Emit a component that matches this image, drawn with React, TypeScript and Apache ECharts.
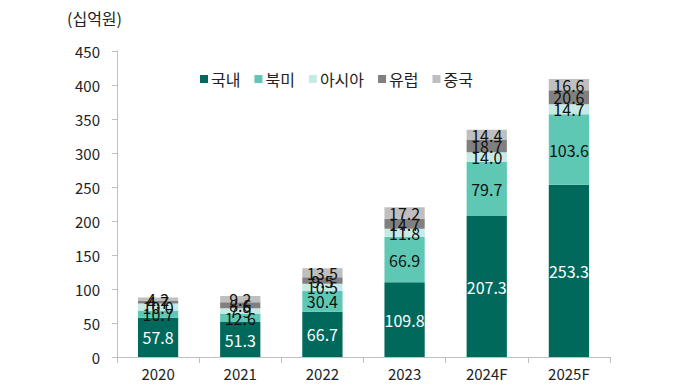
import React, { useEffect, useRef } from "react";
import * as echarts from "echarts";

const categories = ["2020", "2021", "2022", "2023", "2024F", "2025F"];
const domestic = [57.8, 51.3, 66.7, 109.8, 207.3, 253.3];
const northAmerica = [10.7, 12.6, 30.4, 66.9, 79.7, 103.6];
const asia = [10.0, 7.9, 10.5, 11.8, 14.0, 14.7];
const europe = [4.7, 8.6, 9.5, 14.7, 18.7, 20.6];
const china = [4.2, 9.2, 13.5, 17.2, 14.4, 16.6];
const seriesNames = ["국내", "북미", "아시아", "유럽", "중국"];
const colors = ["#00695C", "#5FC8B5", "#C6EBE5", "#808080", "#BFBFBF"];

const FONT = "'Noto Sans CJK KR', 'Noto Sans', sans-serif";

export default function App() {
  const ref = useRef<HTMLDivElement>(null);
  useEffect(() => {
    document.body.style.margin = "0";
    if (!ref.current) return;
    const chart = echarts.init(ref.current, undefined, { renderer: "svg" });
    const data = [domestic, northAmerica, asia, europe, china];
    chart.setOption({
      animation: false,
      textStyle: { fontFamily: FONT },
      title: {
        text: "(십억원)",
        left: 62,
        top: 5,
        textStyle: { fontFamily: FONT, fontSize: 16, fontWeight: "normal", color: "#222" },
      },
      legend: {
        data: seriesNames,
        left: 195,
        top: 66,
        itemWidth: 8,
        itemHeight: 8,
        itemGap: 14,
        icon: "rect",
        textStyle: { fontFamily: FONT, fontSize: 16, color: "#222", padding: [0, 0, 0, -2] },
      },
      grid: { left: 117, right: 70, top: 51, bottom: 32, containLabel: false },
      xAxis: {
        type: "category",
        data: categories,
        axisLine: { lineStyle: { color: "#BFBFBF" } },
        axisTick: { show: true, alignWithLabel: false, length: 6, lineStyle: { color: "#BFBFBF" } },
        axisLabel: { fontFamily: FONT, fontSize: 15, color: "#222", margin: 9 },
      },
      yAxis: {
        type: "value",
        min: 0,
        max: 450,
        interval: 50,
        axisLine: { show: true, lineStyle: { color: "#BFBFBF" } },
        axisTick: { show: true, length: 5, inside: false, lineStyle: { color: "#BFBFBF" } },
        splitLine: { show: false },
        axisLabel: { fontFamily: FONT, fontSize: 15, color: "#222", margin: 17 },
      },
      series: seriesNames.map((name, i) => ({
        name,
        type: "bar",
        stack: "total",
        barWidth: "49%",
        data: data[i],
        itemStyle: { color: colors[i] },
        label: {
          show: true,
          position: "inside",
          fontFamily: FONT,
          fontSize: 16,
          color: i === 0 ? "#FFFFFF" : "#111",
          formatter: (p: any) => Number(p.value).toFixed(1),
        },
      })),
    });
    return () => chart.dispose();
  }, []);
  return <div ref={ref} style={{ width: 680, height: 389 }} />;
}
